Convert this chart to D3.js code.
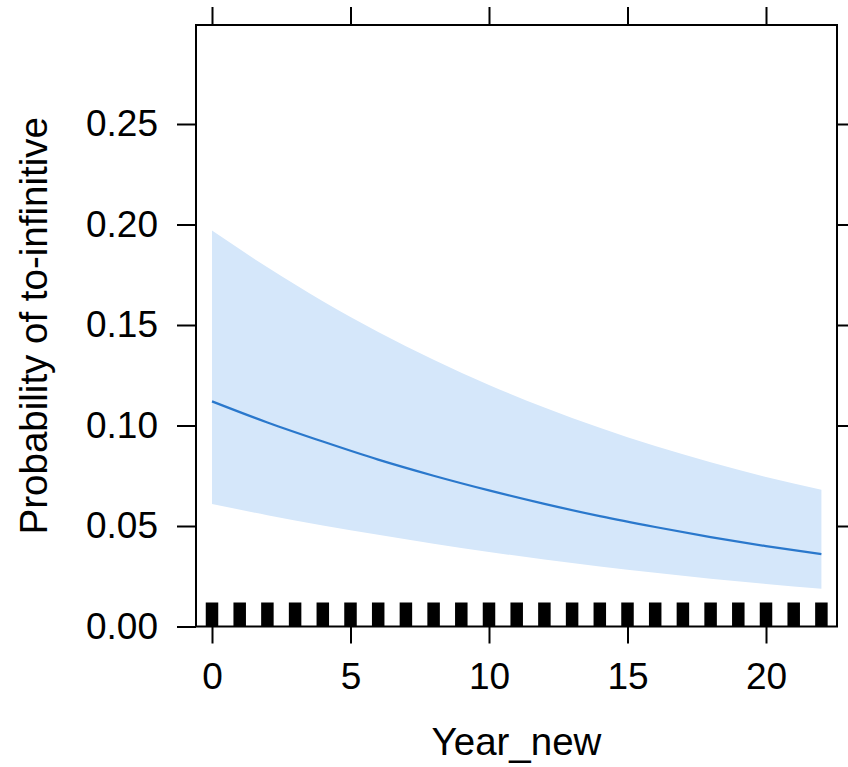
<!DOCTYPE html>
<html>
<head>
<meta charset="utf-8">
<script src="https://cdn.jsdelivr.net/npm/d3@7"></script>
<style>
  html, body { margin: 0; padding: 0; background: #ffffff; }
  svg { display: block; }
  text { font-family: "Liberation Sans", Arial, Helvetica, sans-serif; fill: #000; }
</style>
</head>
<body>
<svg id="chart" width="848" height="767"></svg>
<script>
// ---- data ----
const years      = [0, 2, 4, 6, 8, 10, 12, 14, 16, 18, 20, 22];
const fitProb    = [0.112, 0.1015, 0.092, 0.083, 0.075, 0.0677, 0.061, 0.0549, 0.0495, 0.0445, 0.040, 0.036];
const lowerProb  = [0.061, 0.0554, 0.0503, 0.0456, 0.0412, 0.0371, 0.0333, 0.0299, 0.0267, 0.0238, 0.0212, 0.0188];
const upperProb  = [0.197, 0.1787, 0.1618, 0.1465, 0.1327, 0.1202, 0.109, 0.0989, 0.0898, 0.0817, 0.0744, 0.068];
const rugYears   = [0, 1, 2, 3, 4, 5, 6, 7, 8, 9, 10, 11, 12, 13, 14, 15, 16, 17, 18, 19, 20, 21, 22];
const xTicks     = [0, 5, 10, 15, 20];
const yTicks     = [0.00, 0.05, 0.10, 0.15, 0.20, 0.25];
const xTitle     = "Year_new";
const yTitle     = "Probability of to-infinitive";

// ---- layout ----
const svg = d3.select("#chart");
const panel = { left: 196, right: 837, top: 25, bottom: 626.5 };
const x = d3.scaleLinear().domain([0, 20]).range([212, 766]);
const y = d3.scaleLinear().domain([0, 0.25]).range([626.5, 124]);
const TICK_FONT = 37;
const TITLE_FONT = 38.5;

const rows = years.map((yr, i) => ({ yr, fit: fitProb[i], lo: lowerProb[i], hi: upperProb[i] }));

// confidence band
svg.append("path")
  .datum(rows)
  .attr("fill", "#d5e7fa")
  .attr("stroke", "none")
  .attr("d", d3.area()
    .curve(d3.curveMonotoneX)
    .x(d => x(d.yr))
    .y0(d => y(d.lo))
    .y1(d => y(d.hi)));

// fitted line
svg.append("path")
  .datum(rows)
  .attr("fill", "none")
  .attr("stroke", "#2a78cc")
  .attr("stroke-width", 2.2)
  .attr("d", d3.line()
    .curve(d3.curveMonotoneX)
    .x(d => x(d.yr))
    .y(d => y(d.fit)));

// rug
const rugW = 12.5, rugH = 24;
svg.append("g").selectAll("rect")
  .data(rugYears)
  .join("rect")
  .attr("x", d => x(d) - rugW / 2)
  .attr("y", panel.bottom - rugH)
  .attr("width", rugW)
  .attr("height", rugH)
  .attr("fill", "#000");

// panel border
svg.append("rect")
  .attr("x", panel.left)
  .attr("y", panel.top)
  .attr("width", panel.right - panel.left)
  .attr("height", panel.bottom - panel.top)
  .attr("fill", "none")
  .attr("stroke", "#000")
  .attr("stroke-width", 2);

function styleAxis(g) {
  g.select(".domain").remove();
  g.selectAll(".tick line").attr("stroke", "#000").attr("stroke-width", 2);
  g.selectAll(".tick text")
    .attr("fill", "#000")
    .style("font-size", TICK_FONT + "px")
    .style("font-family", "'Liberation Sans', Arial, sans-serif");
}

// left axis
svg.append("g")
  .attr("transform", `translate(${panel.left},0)`)
  .call(d3.axisLeft(y).tickValues(yTicks).tickFormat(d3.format(".2f"))
        .tickSize(19).tickPadding(19))
  .call(styleAxis);

// bottom axis
svg.append("g")
  .attr("transform", `translate(0,${panel.bottom})`)
  .call(d3.axisBottom(x).tickValues(xTicks).tickFormat(d3.format("d"))
        .tickSize(17).tickPadding(19))
  .call(styleAxis);

// top axis (ticks only)
svg.append("g")
  .attr("transform", `translate(0,${panel.top})`)
  .call(d3.axisTop(x).tickValues(xTicks).tickFormat("").tickSize(18))
  .call(styleAxis);

// right axis (ticks only)
svg.append("g")
  .attr("transform", `translate(${panel.right},0)`)
  .call(d3.axisRight(y).tickValues(yTicks.slice(1)).tickFormat("").tickSize(18))
  .call(styleAxis);

// axis titles
svg.append("text")
  .attr("x", (panel.left + panel.right) / 2)
  .attr("y", 755)
  .attr("text-anchor", "middle")
  .style("font-size", TITLE_FONT + "px")
  .text(xTitle);

svg.append("text")
  .attr("transform", `translate(47,${(panel.top + panel.bottom) / 2}) rotate(-90)`)
  .attr("text-anchor", "middle")
  .style("font-size", TITLE_FONT + "px")
  .text(yTitle);
</script>
</body>
</html>
